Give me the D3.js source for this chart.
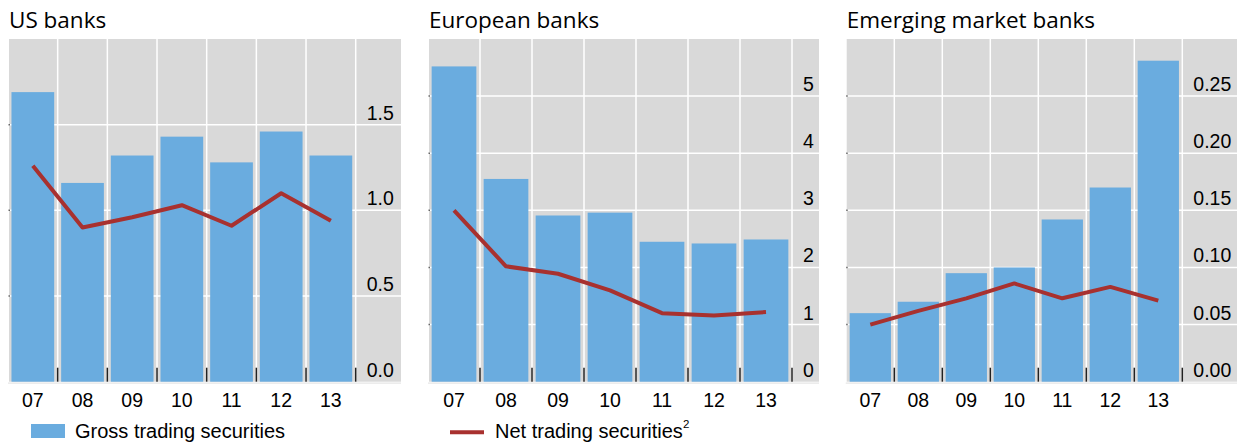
<!DOCTYPE html>
<html><head><meta charset="utf-8">
<script src="https://cdn.jsdelivr.net/npm/d3@7"></script>
<style>
html,body{margin:0;padding:0;background:#fff;}
svg{display:block;}
</style></head>
<body>
<svg id="chart" width="1237" height="443"></svg>
<script>
const years = ["07","08","09","10","11","12","13"];
const usGross = [1.69,1.16,1.32,1.43,1.28,1.46,1.32];
const usNet = [1.26,0.90,0.96,1.03,0.91,1.10,0.94];
const euGross = [5.52,3.55,2.91,2.96,2.45,2.42,2.49];
const euNet = [3.00,2.02,1.89,1.60,1.20,1.16,1.22];
const emGross = [0.060,0.070,0.095,0.100,0.142,0.170,0.281];
const emNet = [0.050,0.062,0.073,0.086,0.073,0.083,0.071];
const usTicks = [0,0.5,1.0,1.5];
const euTicks = [0,1,2,3,4,5];
const emTicks = [0,0.05,0.10,0.15,0.20,0.25];
const titles = ["US banks","European banks","Emerging market banks"];
const legendLabels = ["Gross trading securities","Net trading securities"];

const panels = [
  {title:titles[0], gross:usGross, net:usNet, ticks:usTicks, max:2, fmt:d3.format(".1f"), bandL:8, bandR:355.7, bgL:9, bgR:401},
  {title:titles[1], gross:euGross, net:euNet, ticks:euTicks, max:6, fmt:d3.format("d"), bandL:428, bandR:792, bgL:429, bgR:819},
  {title:titles[2], gross:emGross, net:emNet, ticks:emTicks, max:0.3, fmt:d3.format(".2f"), bandL:846.3, bandR:1182.3, bgL:846.7, bgR:1237}
];

const BAR = "#6aacdf", LINE = "#a8312f", BG = "#d9d9d9";
const TOP = 39, BOT = 381.7;
const svg = d3.select("#chart");
const tickFont = "'Liberation Sans', Arial, sans-serif";
const titleFont = "'Open Sans', 'Noto Sans', sans-serif";

panels.forEach(p => {
  const g = svg.append("g");
  const x = d3.scaleBand().domain(years).range([p.bandL, p.bandR]).paddingInner(0.14).paddingOuter(0.07);
  const y = d3.scaleLinear().domain([0, p.max]).range([BOT, TOP]);
  const step = x.step();

  g.append("text").attr("x", p.bgL).attr("y", 27.5)
    .style("font-family", titleFont).style("font-size", "22.5px").attr("fill", "#000")
    .text(p.title);

  g.append("rect").attr("x", p.bgL).attr("y", TOP).attr("width", p.bgR - p.bgL).attr("height", BOT - TOP).attr("fill", BG);

  // horizontal gridlines
  g.selectAll(".hg").data(p.ticks.filter(t => t > 0)).join("line")
    .attr("x1", p.bgL).attr("x2", p.bgR)
    .attr("y1", d => y(d)).attr("y2", d => y(d))
    .attr("stroke", "#fff").attr("stroke-width", 1.5);
  // small left ticks
  g.selectAll(".lt").data(p.ticks.filter(t => t > 0)).join("line")
    .attr("x1", p.bgL - 0.5).attr("x2", p.bgL + 1)
    .attr("y1", d => y(d)).attr("y2", d => y(d))
    .attr("stroke", "#666").attr("stroke-width", 1.5);

  // vertical gridlines at category boundaries
  const bounds = years.map((v, i) => p.bandL + (i + 1) * step);
  g.selectAll(".vg").data(bounds).join("line")
    .attr("x1", d => d).attr("x2", d => d)
    .attr("y1", TOP).attr("y2", BOT)
    .attr("stroke", "#fff").attr("stroke-width", 1.5);

  // bars
  const bw = step * 0.86;
  g.selectAll(".bar").data(p.gross).join("rect")
    .attr("x", (d, i) => x(years[i]) + x.bandwidth() / 2 - bw / 2)
    .attr("width", bw)
    .attr("y", d => y(d)).attr("height", d => BOT - y(d))
    .attr("fill", BAR);

  // bottom ticks
  g.selectAll(".bt").data(bounds).join("line")
    .attr("x1", d => d).attr("x2", d => d)
    .attr("y1", BOT - 14).attr("y2", BOT)
    .attr("stroke", "#222").attr("stroke-width", 1.5);

  // baseline
  g.append("line").attr("x1", p.bgL - 1).attr("x2", p.bgR).attr("y1", BOT + 1.5).attr("y2", BOT + 1.5)
    .attr("stroke", "#e6e6e6").attr("stroke-width", 1.2);

  // line
  const line = d3.line().x((d, i) => x(years[i]) + x.bandwidth() / 2).y(d => y(d));
  g.append("path").datum(p.net).attr("d", line)
    .attr("fill", "none").attr("stroke", LINE).attr("stroke-width", 4).attr("stroke-linejoin", "round");

  // y labels
  const lastB = bounds[bounds.length - 1];
  g.selectAll(".yl").data(p.ticks).join("text")
    .attr("x", lastB + 11).attr("y", d => y(d) - 5)
    .style("font-family", tickFont).style("font-size", "19.5px").attr("fill", "#000")
    .text(d => p.fmt(d));

  // x labels
  g.selectAll(".xl").data(years).join("text")
    .attr("x", d => x(d) + x.bandwidth() / 2).attr("y", 407)
    .attr("text-anchor", "middle")
    .style("font-family", tickFont).style("font-size", "19.5px").attr("fill", "#000")
    .text(d => d);
});

// legend
const lg = svg.append("g");
lg.append("rect").attr("x", 31).attr("y", 424).attr("width", 34).attr("height", 14).attr("fill", BAR);
lg.append("text").attr("x", 75).attr("y", 437.5)
  .style("font-family", tickFont).style("font-size", "20px").text(legendLabels[0]);
lg.append("line").attr("x1", 450).attr("x2", 484).attr("y1", 432.3).attr("y2", 432.3)
  .attr("stroke", LINE).attr("stroke-width", 4);
const t2 = lg.append("text").attr("x", 495).attr("y", 437.5)
  .style("font-family", tickFont).style("font-size", "20px");
t2.append("tspan").text(legendLabels[1]);
t2.append("tspan").attr("dy", -10).style("font-size", "11.5px").text("2");
</script>
</body></html>
